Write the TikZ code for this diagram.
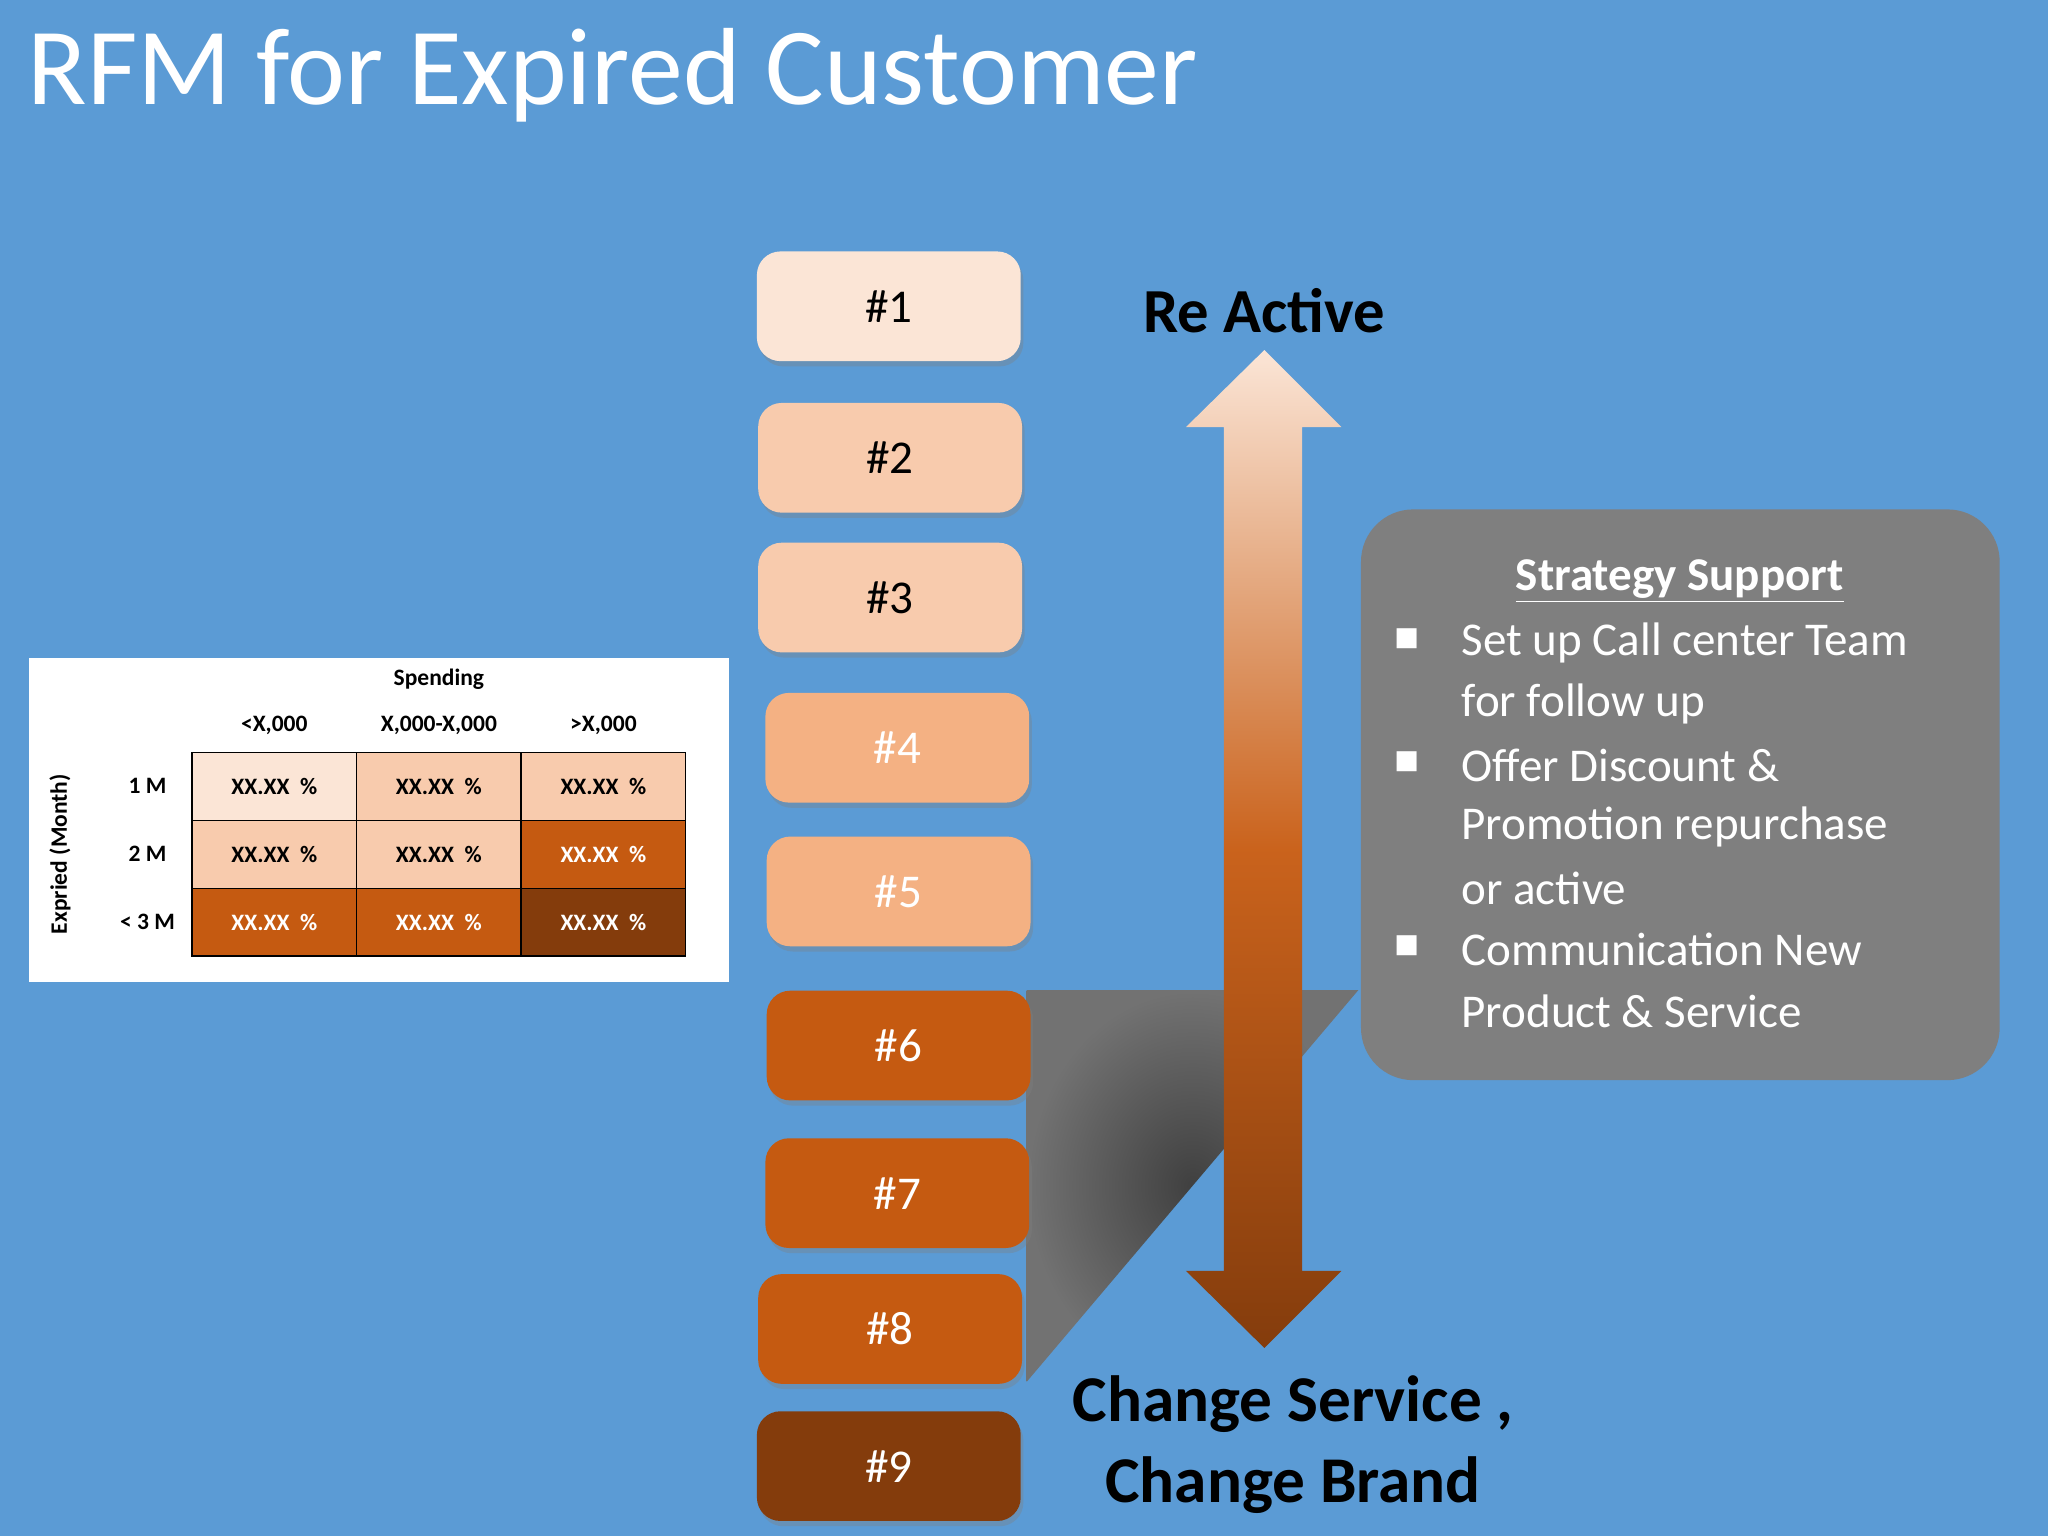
\documentclass[tikz,border=0pt]{standalone}
\usepackage{fontspec}
\setmainfont{Carlito}
\newfontfamily\djv{DejaVu Sans}
\usetikzlibrary{shadows}
\definecolor{bg}{HTML}{5B9BD5}
\definecolor{c1}{HTML}{FBE5D6}
\definecolor{c2}{HTML}{F8CBAD}
\definecolor{c3}{HTML}{F4B183}
\definecolor{c4}{HTML}{C55A11}
\definecolor{c5}{HTML}{843C0C}
\definecolor{gbox}{HTML}{7F7F7F}
\begin{document}
\begin{tikzpicture}[x=0.5pt,y=-0.5pt,
  rbox/.style={rounded corners=9pt,minimum width=101pt,minimum height=42pt,inner sep=0pt,font=\fontsize{18}{20}\selectfont,drop shadow={shadow xshift=1pt,shadow yshift=-2pt,opacity=0.35}},
  cell/.style={draw=black,line width=0.5pt,minimum width=63pt,minimum height=26pt,inner sep=0pt,font=\bfseries\fontsize{9}{10}\selectfont},
  hd/.style={font=\bfseries\fontsize{9}{10}\selectfont},
  bl/.style={anchor=west,font=\fontsize{18}{20}\selectfont,text=white}]
\fill[bg] (0,0) rectangle (1568,1176);
\useasboundingbox (0,0) rectangle (1568,1176);
\node[anchor=west,text=white,font=\fontsize{42}{46}\selectfont] (title) at (14,58) {RFM for Expired Customer};
% shadow triangle
\shade[inner color=black!75,outer color=gbox!90!black] (786,758) -- (1040,758) -- (786,1058) -- cycle;
% gray box
\node[fill=gbox,rounded corners=20pt,minimum width=244.5pt,minimum height=218.5pt,inner sep=0pt] (gb) at (1286.5,608.5) {};
\node[font=\bfseries\fontsize{18}{20}\selectfont,text=white] (st) at (1286,445) {\underline{Strategy Support}};
\foreach \y/\t [count=\i] in {492/Set up Call center Team,539/for follow up,586/Offer Discount \&,633/Promotion repurchase,680/or active,727/Communication New,774/Product \& Service}
  \node[bl] (l\i) at (1112,\y) {\t};
\foreach \y [count=\i] in {492,586,727}
  \node[text=white,font=\djv\fontsize{10}{10}\selectfont] (b\i) at (1077,\y-3) {■};
% arrow
\shade[top color=c1,bottom color=c5,middle color=c4!90!c3]
 (968,268) -- (1027,327) -- (997,327) -- (997,973) -- (1027,973) -- (968,1032) -- (908,973) -- (937,973) -- (937,327) -- (908,327) -- cycle;
\node[font=\bfseries\fontsize{24}{26}\selectfont] (ra) at (968,238) {Re Active};
\node[font=\bfseries\fontsize{25}{27}\selectfont] (cs) at (990,1075) {Change Service ,};
\node[font=\bfseries\fontsize{25}{27}\selectfont] (cb) at (990,1137) {Change Brand};
% boxes
\foreach \x/\y/\c/\tc [count=\i] in {680.5/234.5/c1/black,681.5/350.5/c2/black,681.5/457.5/c2/black,687/572.5/c3/white,688/682.5/c3/white,688/800.5/c4/white,687/913.5/c4/white,681.5/1017.5/c4/white,680.5/1122.5/c5/white}
  \node[rbox,fill=\c,text=\tc] (n\i) at (\x,\y) {\#\i};
% table
\fill[white] (22,504) rectangle (558,752);
\node[hd] (sp) at (336,520) {Spending};
\node[hd] (h1) at (210,555) {<X,000};
\node[hd] (h2) at (336,555) {X,000-X,000};
\node[hd] (h3) at (462,555) {>X,000};
\node[hd,rotate=90] (ex) at (46,654) {Expried (Month)};
\node[hd] (r1) at (113,602) {1 M};
\node[hd] (r2) at (113,654) {2 M};
\node[hd] (r3) at (113,706) {< 3 M};
\foreach \c/\tc/\x/\y [count=\i] in {c1/black/210/602,c2/black/336/602,c2/black/462/602,c2/black/210/654,c2/black/336/654,c4/white/462/654,c4/white/210/706,c4/white/336/706,c5/white/462/706}
  \node[cell,fill=\c,text=\tc] (t\i) at (\x,\y) {XX.XX~~\%};
\end{tikzpicture}
\end{document}
